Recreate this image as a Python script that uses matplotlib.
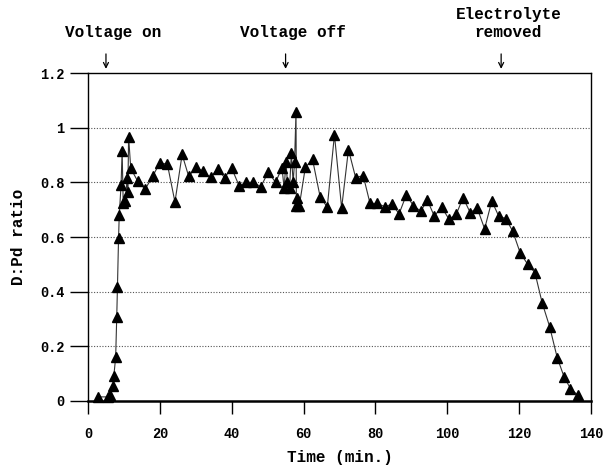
import matplotlib
matplotlib.use("Agg")
import matplotlib.pyplot as plt

# --- data ---
time_min = [2.8, 5.6, 6.1, 7.0, 7.2, 7.7, 8.0, 8.2, 8.5, 8.7, 9.2, 9.5, 9.8,
            10.4, 10.9, 11.1, 11.3, 11.9, 13.8, 15.9, 18.0, 20.0, 22.1, 24.2,
            26.2, 28.0, 30.2, 32.0, 34.1, 36.1, 38.0, 40.0, 42.1, 44.0, 46.0,
            48.1, 50.2, 52.2, 54.0, 54.6, 55.1, 55.5, 56.1, 56.6, 57.1, 57.5,
            57.9, 58.0, 58.2, 58.8, 60.5, 62.5, 64.6, 66.6, 68.6, 70.6, 72.5,
            74.5, 76.6, 78.5, 80.5, 82.6, 84.6, 86.6, 88.6, 90.6, 92.6, 94.5,
            96.4, 98.4, 100.5, 102.5, 104.4, 106.4, 108.3, 110.4, 112.4, 114.3,
            116.3, 118.2, 120.3, 122.4, 124.4, 126.4, 128.5, 130.6, 132.5,
            134.3, 136.4]
dpd_ratio = [0.015, 0.015, 0.022, 0.055, 0.093, 0.16, 0.308, 0.418, 0.595,
             0.68, 0.79, 0.915, 0.725, 0.732, 0.815, 0.766, 0.967, 0.851,
             0.805, 0.775, 0.822, 0.872, 0.866, 0.728, 0.902, 0.823, 0.855,
             0.84, 0.818, 0.85, 0.817, 0.852, 0.786, 0.80, 0.80, 0.784, 0.838,
             0.80, 0.853, 0.778, 0.876, 0.802, 0.778, 0.906, 0.80, 0.876,
             1.058, 0.713, 0.742, 0.713, 0.855, 0.884, 0.748, 0.709, 0.974,
             0.706, 0.92, 0.817, 0.825, 0.723, 0.723, 0.711, 0.72, 0.685,
             0.754, 0.714, 0.695, 0.734, 0.676, 0.71, 0.665, 0.683, 0.744,
             0.689, 0.707, 0.63, 0.732, 0.677, 0.667, 0.622, 0.542, 0.50,
             0.47, 0.36, 0.272, 0.159, 0.089, 0.045, 0.021]

event_times = [5, 55, 115]
event_labels = ["Voltage on", "Voltage off", "Electrolyte\nremoved"]

x_ticks = [0, 20, 40, 60, 80, 100, 120, 140]
y_ticks = [0, 0.2, 0.4, 0.6, 0.8, 1.0, 1.2]
y_tick_labels = ["0", "0.2", "0.4", "0.6", "0.8", "1", "1.2"]

FONT = "Liberation Mono"

fig = plt.figure(figsize=(6.04, 4.69), dpi=100)
ax = fig.add_axes([0.1457, 0.145, 0.8327, 0.6993])

# dotted grid lines
for yv in y_ticks[1:-1]:
    ax.axhline(yv, color="#555555", lw=0.8, ls=(0, (1, 1.5)), zorder=1)

ax.plot(time_min, dpd_ratio, color="#333333", lw=0.8, marker="^",
        markersize=7.5, markerfacecolor="black", markeredgecolor="black",
        zorder=3, clip_on=False)

ax.set_xlim(0, 140)
ax.set_ylim(0, 1.2)
ax.set_xticks(x_ticks)
ax.set_yticks(y_ticks)
ax.set_yticklabels(y_tick_labels)

for s in ax.spines.values():
    s.set_linewidth(1.0)
ax.spines["bottom"].set_linewidth(1.8)

ax.tick_params(axis="x", direction="out", length=9, width=1, pad=10)
ax.tick_params(axis="y", direction="out", length=13, width=1, pad=4)
for lbl in ax.get_xticklabels() + ax.get_yticklabels():
    lbl.set_fontfamily(FONT)
    lbl.set_fontweight("bold")
    lbl.set_fontsize(9.8)

ax.set_xlabel("Time (min.)", fontfamily=FONT, fontweight="bold",
              fontsize=11.5, labelpad=6)
ax.set_ylabel("D:Pd ratio", fontfamily=FONT, fontweight="bold",
              fontsize=11.5, labelpad=10)

# event arrows above the frame
for t, lab in zip(event_times, event_labels):
    ax.annotate("", xy=(t, 1.205), xytext=(t, 1.28),
                arrowprops=dict(arrowstyle="->", lw=0.9, color="black",
                                mutation_scale=9),
                annotation_clip=False)
    ax.text(t + 2, 1.32, lab, ha="center", va="bottom", fontfamily=FONT,
            fontweight="bold", fontsize=11.5, linespacing=1.25)

fig.savefig("out.png", dpi=100)
